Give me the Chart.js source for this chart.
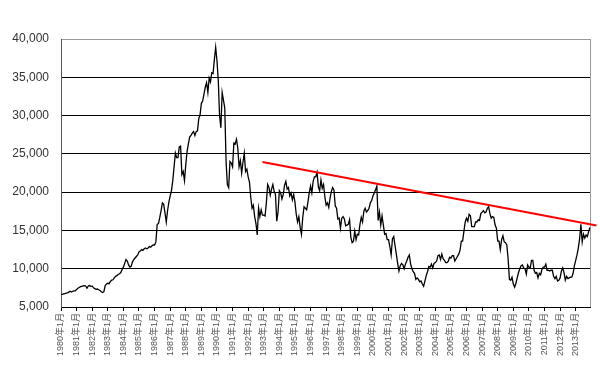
<!DOCTYPE html>
<html>
<head>
<meta charset="utf-8">
<script src="https://cdn.jsdelivr.net/npm/chart.js@4"></script>
<style>
  html, body { margin: 0; padding: 0; background: #fff; }
  #wrap { width: 600px; height: 373px; position: relative; }
</style>
</head>
<body>
<div id="wrap"><canvas id="nikkeiChart"></canvas></div>
<script>
// Monthly index level, Jan 1980 - Dec 2013
const close1980s = [
    6600, 6650, 6700, 6750, 6800, 6850, 6950, 7050, 6950, 7050, 7100, 7120,
    7300, 7450, 7550, 7650, 7700, 7750, 7800, 7750, 7450, 7750, 7800, 7680,
    7750, 7500, 7400, 7300, 7350, 7250, 7150, 7000, 6900, 7000, 7800, 8000,
    8100, 8050, 8350, 8500, 8550, 8800, 9000, 9100, 9250, 9350, 9500, 9900,
    10200, 10700, 11200, 11000, 10500, 10200, 10300, 10900, 11200, 11400, 11600, 11800,
    12200, 12300, 12500, 12400, 12600, 12700, 12600, 12700, 12900, 12800, 13000, 13100,
    13100, 13500, 15800, 15900, 16700, 17600, 18600, 18400, 17300, 16100, 17600, 18700,
    19500, 20200, 21500, 23300, 25100, 24500, 24500, 25900, 26000, 22300, 22700, 21500,
    23600, 25300, 26300, 27200, 27400, 27700, 27900, 27400, 27900, 28000, 29600, 30100,
    31600, 31900, 32800, 33700, 34300, 33000, 34900, 34400, 35600, 35500, 37300, 38900
];
const close1990s = [
    37200, 34600, 30000, 28400, 33000, 32000, 31000, 24000, 21000, 20600, 24000, 23800,
    23300, 26400, 26300, 26900, 25800, 23300, 24100, 22500, 23900, 25100, 22700, 23000,
    22000, 21300, 19300, 17900, 18300, 16800, 15900, 14400, 17900, 16800, 17700, 17000,
    17000, 16900, 18600, 21000, 20600, 19600, 20400, 21000, 20100, 19700, 16200, 17400,
    20200, 19900, 19100, 19700, 20900, 21400, 20400, 20600, 19500, 19900, 19000, 19700,
    18700, 17100, 16100, 16800, 15400, 14500, 16700, 18100, 17900, 17700, 18700, 19900,
    20800, 19900, 21400, 22000, 22000, 22600, 20700, 20200, 21600, 20500, 21000, 19400,
    18300, 18600, 18000, 19200, 20100, 20600, 20300, 18200, 17900, 16500, 16600, 15300,
    16600, 16800, 16500, 15600, 15700, 15800, 16400, 14100, 13400, 13600, 14900, 13800,
    14500, 14400, 15800, 16700, 16100, 17500, 17900, 17400, 17600, 17900, 18600, 18900
];
const close2000s = [
    19500, 19900, 20300, 20800, 16300, 17400, 15700, 16900, 15700, 14500, 14600, 13800,
    13800, 12900, 11800, 13900, 14200, 13000, 11900, 10700, 9700, 10400, 10700, 10500,
    10000, 10600, 11000, 11500, 11800, 10600, 10000, 9600, 9400, 8600, 8800, 8600,
    8300, 8400, 8000, 7700, 8400, 9100, 9600, 10300, 10200, 10600, 10100, 10700,
    10800, 11000, 11700, 11800, 11200, 11900, 11300, 11100, 10800, 10800, 11000, 11500,
    11400, 11700, 11700, 11000, 11300, 11600, 11900, 12400, 13600, 13600, 14900, 16100,
    16600, 16200, 17100, 16900, 15500, 15500, 15500, 16100, 16100, 16400, 16300, 17200,
    17400, 17600, 17300, 17400, 17900, 18100, 17200, 16600, 16800, 16700, 15700, 15300,
    13600, 13600, 12500, 13800, 14300, 13500, 13400, 13100, 11300, 8600, 8500, 8900,
    8000, 7600, 8100, 8800, 9500, 10000, 10400, 10500, 10100, 10000, 9300, 10500
];
const close2010s = [
    10200, 10100, 11100, 11100, 9800, 9400, 9500, 8800, 9400, 9200, 9900, 10200,
    10200, 10600, 9800, 9800, 9700, 9800, 9800, 9000, 8700, 9000, 8400, 8500,
    8800, 9700, 10100, 9500, 8500, 9000, 8700, 8800, 8900, 8900, 9400, 10400,
    11100, 11800, 12700, 13900, 15800, 13500, 14500, 14000, 14400, 14200, 14900, 15400
];

// Trend line: month index (from Jan 1980) and level at its two ends
const trendMonth = [155, 412];
const trendLevel = [23950, 15650];

// y axis ticks
const yTicks = [5000, 10000, 15000, 20000, 25000, 30000, 35000, 40000];

const firstYear = 1980;
const closes = [].concat(close1980s, close1990s, close2000s, close2010s);
const months = closes.map((v, i) => (firstYear + Math.floor(i / 12)) + '年' + (i % 12 + 1) + '月');

const labelFont = "'Liberation Sans', Arial, 'Noto Sans CJK JP', sans-serif";

// thin grey frame on the right side of the plot area
const frameRight = {
    id: 'frameRight',
    beforeDatasetsDraw(chart) {
        const a = chart.chartArea;
        const ctx = chart.ctx;
        ctx.save();
        ctx.strokeStyle = '#9a9a9a';
        ctx.lineWidth = 1;
        ctx.beginPath();
        ctx.moveTo(Math.round(a.right) + 0.5, a.top);
        ctx.lineTo(Math.round(a.right) + 0.5, a.bottom);
        ctx.stroke();
        ctx.restore();
    }
};

new Chart(document.getElementById('nikkeiChart'), {
    type: 'line',
    data: {
        labels: months,
        datasets: [{
            label: 'index',
            data: closes,
            borderColor: '#000',
            borderWidth: 1.3,
            pointRadius: 0,
            tension: 0,
            xAxisID: 'x',
            order: 2
        }, {
            label: 'trend',
            data: trendMonth.map((m, i) => ({ x: m, y: trendLevel[i] })),
            borderColor: '#ff0000',
            borderWidth: 2,
            pointRadius: 0,
            tension: 0,
            xAxisID: 'x2',
            clip: false,
            order: 1
        }]
    },
    options: {
        responsive: true,
        maintainAspectRatio: false,
        animation: false,
        layout: { padding: { top: 39, right: 10, left: 0, bottom: 0 } },
        plugins: {
            legend: { display: false },
            tooltip: { enabled: false }
        },
        scales: {
            x: {
                type: 'category',
                offset: false,
                grid: {
                    drawOnChartArea: false,
                    tickLength: 4,
                    color: '#000'
                },
                border: { color: '#000' },
                ticks: {
                    autoSkip: false,
                    minRotation: 90,
                    maxRotation: 90,
                    padding: 2,
                    color: '#555',
                    font: { family: labelFont, size: 9 },
                    callback: (v, i) => (i % 12 === 0 ? months[i] : null)
                },
                afterFit: (s) => { s.height = 66; }
            },
            x2: {
                type: 'linear',
                display: false,
                min: 0,
                max: closes.length - 1,
                offset: false
            },
            y: {
                min: 5000,
                max: 40000,
                afterBuildTicks: (s) => { s.ticks = yTicks.map(v => ({ value: v })); },
                grid: {
                    drawTicks: false,
                    color: (c) => (c.tick && c.tick.value === 40000 ? '#9a9a9a' : '#000')
                },
                border: { color: '#555' },
                ticks: {
                    padding: 12,
                    color: '#333',
                    font: { family: labelFont, size: 12 },
                    callback: (v) => v.toLocaleString('en-US')
                },
                afterFit: (s) => { s.width = 61; }
            }
        }
    },
    plugins: [frameRight]
});
</script>
</body>
</html>
